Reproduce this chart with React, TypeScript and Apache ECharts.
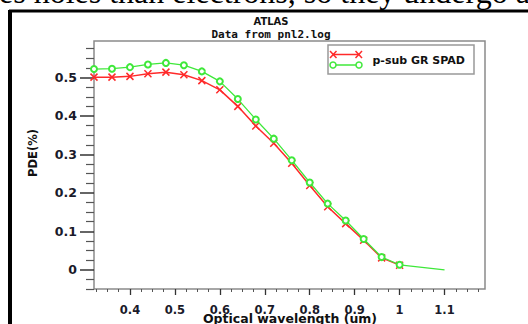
import React, { useEffect, useRef } from "react";
import * as echarts from "echarts";

const wavelengths = [0.32, 0.36, 0.4, 0.44, 0.48, 0.52, 0.56, 0.6, 0.64, 0.68, 0.72, 0.76, 0.8, 0.84, 0.88, 0.92, 0.96, 1.0, 1.1];
const pdeRed = [0.501, 0.501, 0.503, 0.51, 0.514, 0.507, 0.492, 0.468, 0.425, 0.374, 0.329, 0.277, 0.219, 0.164, 0.12, 0.077, 0.031, 0.012];
const pdeGreen = [0.522, 0.523, 0.527, 0.534, 0.538, 0.532, 0.516, 0.49, 0.444, 0.391, 0.341, 0.285, 0.227, 0.172, 0.128, 0.08, 0.033, 0.013, 0.0];

const xMajorTicks = [0.4, 0.5, 0.6, 0.7, 0.8, 0.9, 1.0, 1.1];
const xTickLabels = ["0.4", "0.5", "0.6", "0.7", "0.8", "0.9", "1", "1.1"];
const xMinorTicks = [0.325, 0.35, 0.375, 0.425, 0.45, 0.475, 0.525, 0.55, 0.575, 0.625, 0.65, 0.675, 0.725, 0.75, 0.775, 0.825, 0.85, 0.875, 0.925, 0.95, 0.975, 1.025, 1.05, 1.075, 1.125, 1.15, 1.175];
const yMajorTicks = [0, 0.1, 0.2, 0.3, 0.4, 0.5];
const yTickLabels = ["0", "0.1", "0.2", "0.3", "0.4", "0.5"];
const yMinorTicks = [-0.05, -0.025, 0.025, 0.05, 0.075, 0.125, 0.15, 0.175, 0.225, 0.25, 0.275, 0.325, 0.35, 0.375, 0.425, 0.45, 0.475, 0.525, 0.55, 0.575];

const titleText = "ATLAS";
const subtitleText = "Data from pnl2.log";
const legendLabel = "p-sub GR SPAD";
const xName = "Optical wavelength (um)";
const yName = "PDE(%)";
const pageText = "es holes than electrons, so they undergo a";

const RED = "#ff2a2a";
const GREEN = "#3fe83a";
const SANS = "DejaVu Sans";

export default function App() {
  const ref = useRef<HTMLDivElement>(null);
  useEffect(() => {
    if (!ref.current) return;
    const chart = echarts.init(ref.current, null, { renderer: "svg" });
    const X_MIN = 0.32, X_MAX = 1.19, Y_MIN = -0.05, Y_MAX = 0.595;
    const redData = pdeRed.map((v, i) => [wavelengths[i], v]);
    const greenData = pdeGreen.map((v, i) =>
      i === pdeGreen.length - 1 ? { value: [wavelengths[i], v], symbol: "none" } : [wavelengths[i], v]
    );
    const labelFmt = (arr: number[], labels: string[]) => (val: number) => {
      const idx = arr.findIndex((t) => Math.abs(t - val) < 1e-6);
      return idx >= 0 ? labels[idx] : "";
    };
    chart.setOption({
      animation: false,
      backgroundColor: "#fff",
      title: {
        text: titleText,
        subtext: subtitleText,
        left: 271,
        top: 15,
        textAlign: "center",
        itemGap: 1,
        padding: 0,
        textStyle: { fontFamily: SANS, fontWeight: "bold", fontSize: 10, color: "#111", lineHeight: 12 },
        subtextStyle: { fontFamily: "DejaVu Sans Mono", fontWeight: "bold", fontSize: 11, color: "#111", lineHeight: 12 },
      },
      grid: {
        left: 94,
        right: 43,
        top: 41,
        bottom: 35,
        show: true,
        borderColor: "#8a8a8a",
        borderWidth: 1.5,
        backgroundColor: "#fff",
      },
      xAxis: [
        {
          type: "value",
          position: "bottom",
          min: X_MIN,
          max: X_MAX,
          axisLine: { show: false, onZero: false },
          splitLine: { show: false },
          axisTick: { show: true, length: 6, customValues: xMajorTicks, lineStyle: { color: "#333", width: 1.3 } },
          axisLabel: {
            customValues: xMajorTicks,
            formatter: labelFmt(xMajorTicks, xTickLabels),
            margin: 15,
            fontFamily: SANS,
            fontWeight: "bold",
            fontSize: 11.5,
            color: "#1a1a2a",
          },
        },
        {
          type: "value",
          position: "bottom",
          min: X_MIN,
          max: X_MAX,
          axisLine: { show: false, onZero: false },
          splitLine: { show: false },
          axisLabel: { show: false },
          axisTick: { show: true, length: 3, customValues: xMinorTicks, lineStyle: { color: "#555", width: 1 } },
        },
      ],
      yAxis: [
        {
          type: "value",
          position: "left",
          min: Y_MIN,
          max: Y_MAX,
          axisLine: { show: false, onZero: false },
          splitLine: { show: false },
          axisTick: { show: true, length: 14, customValues: yMajorTicks, lineStyle: { color: "#333", width: 1.5 } },
          axisLabel: {
            customValues: yMajorTicks,
            formatter: labelFmt(yMajorTicks, yTickLabels),
            margin: 17,
            fontFamily: SANS,
            fontWeight: "bold",
            fontSize: 12.5,
            color: "#1a1a2a",
          },
        },
        {
          type: "value",
          position: "left",
          min: Y_MIN,
          max: Y_MAX,
          axisLine: { show: false, onZero: false },
          splitLine: { show: false },
          axisLabel: { show: false },
          axisTick: { show: true, length: 8, customValues: yMinorTicks, lineStyle: { color: "#555", width: 1.2 } },
        },
      ],
      series: [
        {
          name: legendLabel,
          type: "line",
          xAxisIndex: 0,
          yAxisIndex: 0,
          data: redData,
          symbol: "path://M0,0L10,10M10,0L0,10",
          symbolSize: 7,
          lineStyle: { color: RED, width: 1.5 },
          itemStyle: { color: RED, borderColor: RED, borderWidth: 1.5 },
          z: 2,
        },
        {
          name: legendLabel + " ",
          type: "line",
          xAxisIndex: 0,
          yAxisIndex: 0,
          data: greenData,
          symbol: "emptyCircle",
          symbolSize: 6,
          lineStyle: { color: GREEN, width: 1.3 },
          itemStyle: { color: GREEN, borderColor: GREEN, borderWidth: 1.5 },
          z: 3,
        },
      ],
      graphic: [
        {
          type: "text",
          x: -1,
          y: -8,
          style: { text: pageText, fontFamily: "Liberation Serif", fontSize: 32, fill: "#000", verticalAlign: "middle", align: "left" },
        },
        { type: "line", shape: { x1: 9, y1: 11, x2: 528, y2: 11 }, style: { stroke: "#000", lineWidth: 3 } },
        { type: "line", shape: { x1: 10, y1: 10, x2: 10, y2: 324 }, style: { stroke: "#000", lineWidth: 4 } },
        {
          type: "text",
          x: 33,
          y: 153,
          rotation: Math.PI / 2,
          style: { text: yName, fontFamily: SANS, fontWeight: "bold", fontSize: 11.5, fill: "#111", align: "center", verticalAlign: "middle" },
        },
        {
          type: "text",
          x: 290,
          y: 318,
          style: { text: xName, fontFamily: SANS, fontWeight: "bold", fontSize: 12.5, fill: "#111", align: "center", verticalAlign: "middle" },
        },
        {
          type: "rect",
          shape: { x: 328, y: 45, width: 146, height: 29 },
          style: { fill: "#fff", stroke: "#999", lineWidth: 1.5 },
        },
        { type: "line", shape: { x1: 333, y1: 54.5, x2: 359, y2: 54.5 }, style: { stroke: RED, lineWidth: 1.5 } },
        { type: "line", shape: { x1: 330, y1: 51, x2: 336.5, y2: 58 }, style: { stroke: RED, lineWidth: 1.5 } },
        { type: "line", shape: { x1: 330, y1: 58, x2: 336.5, y2: 51 }, style: { stroke: RED, lineWidth: 1.5 } },
        { type: "line", shape: { x1: 355.5, y1: 51, x2: 362, y2: 58 }, style: { stroke: RED, lineWidth: 1.5 } },
        { type: "line", shape: { x1: 355.5, y1: 58, x2: 362, y2: 51 }, style: { stroke: RED, lineWidth: 1.5 } },
        { type: "line", shape: { x1: 333, y1: 65, x2: 359, y2: 65 }, style: { stroke: GREEN, lineWidth: 1.5 } },
        { type: "circle", shape: { cx: 333, cy: 65, r: 3 }, style: { fill: "#fff", stroke: GREEN, lineWidth: 1.5 } },
        { type: "circle", shape: { cx: 359, cy: 65, r: 3 }, style: { fill: "#fff", stroke: GREEN, lineWidth: 1.5 } },
        {
          type: "text",
          x: 372.5,
          y: 60,
          style: { text: legendLabel, fontFamily: SANS, fontWeight: "bold", fontSize: 11, fill: "#111", verticalAlign: "middle" },
        },
      ],
    });
    return () => chart.dispose();
  }, []);
  return (
    <div
      ref={ref}
      style={{ position: "fixed", left: 0, top: 0, width: 528, height: 324, background: "#fff" }}
    />
  );
}
